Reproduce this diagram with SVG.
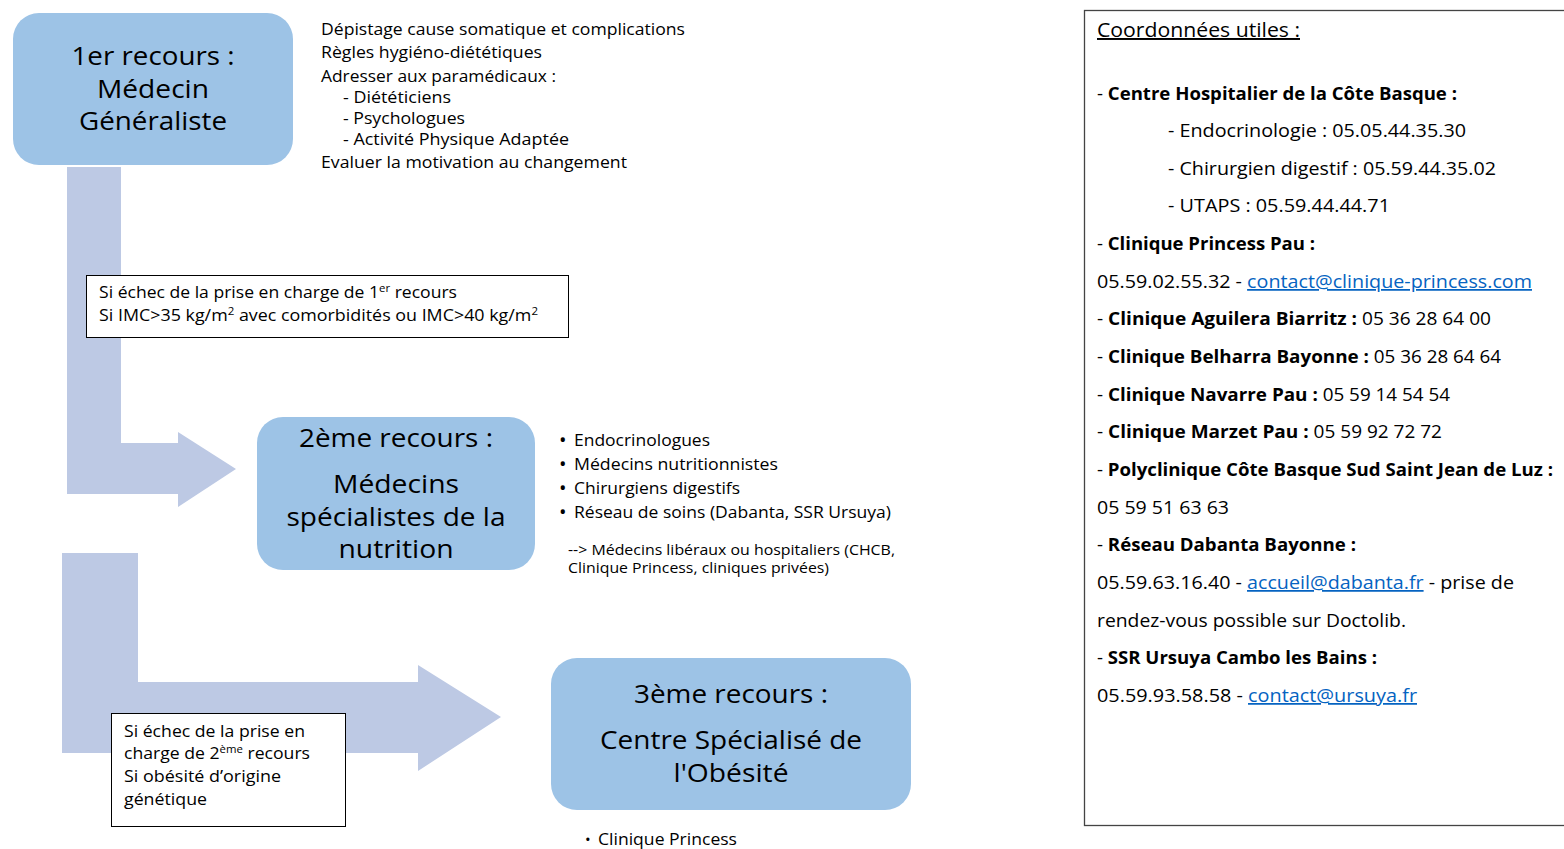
<svg xmlns="http://www.w3.org/2000/svg" width="1564" height="849" viewBox="0 0 1564 849">
<style>
text{font-family:"Open Sans","Noto Sans",sans-serif;fill:#000;}
.box{fill:#9dc3e6;}
.arr{fill:#bdc9e4;}
.big{font-size:25px;}
.mid{font-size:15.5px;}
.bul{font-size:20px;}
.note{font-size:15px;}
.panel{font-size:17.5px;}
.b{font-weight:bold;}
.lnk{fill:#0563c1;text-decoration:underline;}
.nbox{fill:#fff;stroke:#000;stroke-width:1;}
</style>
<rect width="1564" height="849" fill="#fff"/>
<g id="connectors">
<path class="arr" d="M67,167 H121 V443 H178 V432 L236,469 L178,507 V494 H67 Z"/>
<path class="arr" d="M62,553 H138 V682 H418 V665 L501,717 L418,771 V753 H62 Z"/>
</g>
<g id="node1">
<rect class="box" x="13" y="13" width="280" height="152" rx="26"/>
<text class="big" text-anchor="middle" x="153" y="65" textLength="163" lengthAdjust="spacingAndGlyphs">1er recours :</text>
<text class="big" text-anchor="middle" x="153" y="98" textLength="112" lengthAdjust="spacingAndGlyphs">Médecin</text>
<text class="big" text-anchor="middle" x="153" y="130" textLength="148" lengthAdjust="spacingAndGlyphs">Généraliste</text>
</g>
<g id="list1">
<text class="mid" x="321" y="35" textLength="364" lengthAdjust="spacingAndGlyphs">Dépistage cause somatique et complications</text>
<text class="mid" x="321" y="58" textLength="221" lengthAdjust="spacingAndGlyphs">Règles hygiéno-diététiques</text>
<text class="mid" x="321" y="82" textLength="235" lengthAdjust="spacingAndGlyphs">Adresser aux paramédicaux :</text>
<text class="mid" x="343" y="103" textLength="108" lengthAdjust="spacingAndGlyphs">- Diététiciens</text>
<text class="mid" x="343" y="124" textLength="122" lengthAdjust="spacingAndGlyphs">- Psychologues</text>
<text class="mid" x="343" y="145" textLength="226" lengthAdjust="spacingAndGlyphs">- Activité Physique Adaptée</text>
<text class="mid" x="321" y="168" textLength="306" lengthAdjust="spacingAndGlyphs">Evaluer la motivation au changement</text>
</g>
<g id="cond1">
<rect class="nbox" x="86.5" y="275.5" width="482" height="62"/>
<text class="mid" x="99" y="298" textLength="358" lengthAdjust="spacingAndGlyphs">Si échec de la prise en charge de 1<tspan font-size="10" dy="-6">er</tspan><tspan dy="6"> recours</tspan></text>
<text class="mid" x="99" y="321" textLength="439" lengthAdjust="spacingAndGlyphs">Si IMC&gt;35 kg/m<tspan font-size="10" dy="-6">2</tspan><tspan dy="6"> avec comorbidités ou IMC&gt;40 kg/m</tspan><tspan font-size="10" dy="-6">2</tspan></text>
</g>
<g id="node2">
<rect class="box" x="257" y="417" width="278" height="153" rx="26"/>
<text class="big" text-anchor="middle" x="396" y="447" textLength="194" lengthAdjust="spacingAndGlyphs">2ème recours :</text>
<text class="big" text-anchor="middle" x="396" y="493" textLength="126" lengthAdjust="spacingAndGlyphs">Médecins</text>
<text class="big" text-anchor="middle" x="396" y="526" textLength="219" lengthAdjust="spacingAndGlyphs">spécialistes de la</text>
<text class="big" text-anchor="middle" x="396" y="558" textLength="115" lengthAdjust="spacingAndGlyphs">nutrition</text>
</g>
<g id="list2">
<text class="bul" x="559" y="447">•</text>
<text class="mid" x="574" y="446" textLength="136" lengthAdjust="spacingAndGlyphs">Endocrinologues</text>
<text class="bul" x="559" y="471">•</text>
<text class="mid" x="574" y="470" textLength="204" lengthAdjust="spacingAndGlyphs">Médecins nutritionnistes</text>
<text class="bul" x="559" y="495">•</text>
<text class="mid" x="574" y="494" textLength="166" lengthAdjust="spacingAndGlyphs">Chirurgiens digestifs</text>
<text class="bul" x="559" y="519">•</text>
<text class="mid" x="574" y="518" textLength="317" lengthAdjust="spacingAndGlyphs">Réseau de soins (Dabanta, SSR Ursuya)</text>
<text class="note" x="568" y="555" textLength="327" lengthAdjust="spacingAndGlyphs">--&gt; Médecins libéraux ou hospitaliers (CHCB,</text>
<text class="note" x="568" y="573" textLength="261" lengthAdjust="spacingAndGlyphs">Clinique Princess, cliniques privées)</text>
</g>
<g id="cond2">
<rect class="nbox" x="111.5" y="713.5" width="234" height="113"/>
<text class="mid" x="124" y="737" textLength="181" lengthAdjust="spacingAndGlyphs">Si échec de la prise en</text>
<text class="mid" x="124" y="759" textLength="186" lengthAdjust="spacingAndGlyphs">charge de 2<tspan font-size="10" dy="-6">ème</tspan><tspan dy="6"> recours</tspan></text>
<text class="mid" x="124" y="782" textLength="157" lengthAdjust="spacingAndGlyphs">Si obésité d’origine</text>
<text class="mid" x="124" y="805" textLength="83" lengthAdjust="spacingAndGlyphs">génétique</text>
</g>
<g id="node3">
<rect class="box" x="551" y="658" width="360" height="152" rx="26"/>
<text class="big" text-anchor="middle" x="731" y="703" textLength="194" lengthAdjust="spacingAndGlyphs">3ème recours :</text>
<text class="big" text-anchor="middle" x="731" y="749" textLength="262" lengthAdjust="spacingAndGlyphs">Centre Spécialisé de</text>
<text class="big" text-anchor="middle" x="731" y="782" textLength="115" lengthAdjust="spacingAndGlyphs">l'Obésité</text>
</g>
<g id="list3">
<text x="585" y="845" font-size="15">•</text>
<text class="mid" x="598" y="845" textLength="139" lengthAdjust="spacingAndGlyphs">Clinique Princess</text>
</g>
<g id="panel">
<rect x="1084.5" y="10.5" width="500" height="815" fill="#fff" stroke="#444" stroke-width="1.3"/>
<text x="1097" y="37" font-size="19.5" text-decoration="underline" textLength="203" lengthAdjust="spacingAndGlyphs">Coordonnées utiles :</text>
<text class="panel" x="1097" y="100" textLength="360" lengthAdjust="spacingAndGlyphs">- <tspan class="b">Centre Hospitalier de la Côte Basque :</tspan></text>
<text class="panel" x="1168" y="137" textLength="298" lengthAdjust="spacingAndGlyphs">- Endocrinologie : 05.05.44.35.30</text>
<text class="panel" x="1168" y="175" textLength="328" lengthAdjust="spacingAndGlyphs">- Chirurgien digestif : 05.59.44.35.02</text>
<text class="panel" x="1168" y="212" textLength="222" lengthAdjust="spacingAndGlyphs">- UTAPS : 05.59.44.44.71</text>
<text class="panel" x="1097" y="250" textLength="218" lengthAdjust="spacingAndGlyphs">- <tspan class="b">Clinique Princess Pau :</tspan></text>
<text class="panel" x="1097" y="288" textLength="435" lengthAdjust="spacingAndGlyphs">05.59.02.55.32 - <tspan class="lnk">contact@clinique-princess.com</tspan></text>
<text class="panel" x="1097" y="325" textLength="394" lengthAdjust="spacingAndGlyphs">- <tspan class="b">Clinique Aguilera Biarritz :</tspan>  05 36 28 64 00</text>
<text class="panel" x="1097" y="363" textLength="404" lengthAdjust="spacingAndGlyphs">- <tspan class="b">Clinique Belharra Bayonne :</tspan> 05 36 28 64 64</text>
<text class="panel" x="1097" y="401" textLength="353" lengthAdjust="spacingAndGlyphs">- <tspan class="b">Clinique Navarre Pau :</tspan> 05 59 14 54 54</text>
<text class="panel" x="1097" y="438" textLength="345" lengthAdjust="spacingAndGlyphs">- <tspan class="b">Clinique Marzet Pau :</tspan> 05 59 92 72 72</text>
<text class="panel" x="1097" y="476" textLength="456" lengthAdjust="spacingAndGlyphs">- <tspan class="b">Polyclinique Côte Basque Sud Saint Jean de Luz :</tspan></text>
<text class="panel" x="1097" y="514" textLength="132" lengthAdjust="spacingAndGlyphs">05 59 51 63 63</text>
<text class="panel" x="1097" y="551" textLength="259" lengthAdjust="spacingAndGlyphs">- <tspan class="b">Réseau Dabanta Bayonne :</tspan></text>
<text class="panel" x="1097" y="589" textLength="417" lengthAdjust="spacingAndGlyphs">05.59.63.16.40 - <tspan class="lnk">accueil@dabanta.fr</tspan> - prise de</text>
<text class="panel" x="1097" y="627" textLength="309" lengthAdjust="spacingAndGlyphs">rendez-vous possible sur Doctolib.</text>
<text class="panel" x="1097" y="664" textLength="280" lengthAdjust="spacingAndGlyphs">- <tspan class="b">SSR Ursuya Cambo les Bains :</tspan></text>
<text class="panel" x="1097" y="702" textLength="320" lengthAdjust="spacingAndGlyphs">05.59.93.58.58 - <tspan class="lnk">contact@ursuya.fr</tspan></text>
</g>
</svg>
